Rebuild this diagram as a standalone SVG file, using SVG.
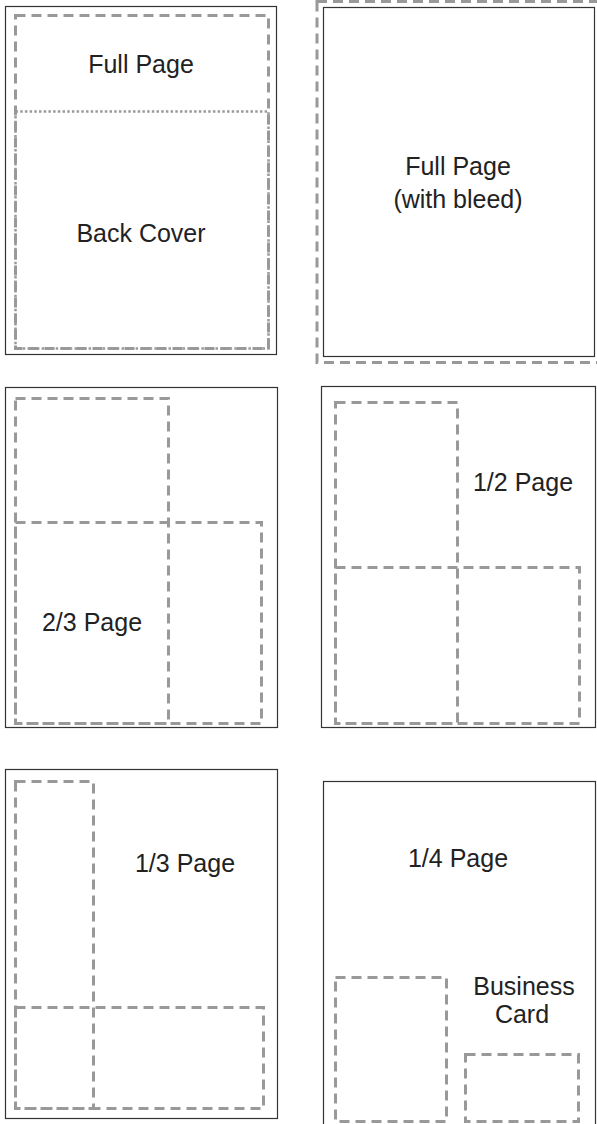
<svg xmlns="http://www.w3.org/2000/svg" width="597" height="1124" viewBox="0 0 597 1124">
<style>
.page{fill:#fff;stroke:#333;stroke-width:1.2}
.ad{fill:none;stroke:#999;stroke-width:3;stroke-dasharray:10 6}
.dot{fill:none;stroke:#999;stroke-width:2.5;stroke-dasharray:2.5 2.2}
text{font-family:"Liberation Sans",Arial,sans-serif;font-size:25px;fill:#222;text-anchor:middle}
</style>
<rect width="597" height="1124" fill="#fff"/>
<g id="full-page-back-cover">
<rect class="page" x="5.5" y="6.5" width="271" height="348"/>
<rect class="ad" x="15.5" y="15.5" width="253" height="333"/>
<rect class="dot" x="15.5" y="111.5" width="253" height="237"/>
<text x="141" y="73">Full Page</text>
<text x="141" y="242">Back Cover</text>
</g>
<g id="full-page-bleed">
<rect class="ad" x="317" y="1.5" width="292" height="361"/>
<rect class="page" x="323.5" y="7.5" width="271" height="349"/>
<text x="458" y="175">Full Page</text>
<text x="458" y="208">(with bleed)</text>
</g>
<g id="two-thirds-page">
<rect class="page" x="5.5" y="387.5" width="272" height="340"/>
<rect class="ad" x="15.5" y="398.5" width="153" height="325"/>
<rect class="ad" x="15.5" y="522.5" width="246" height="201"/>
<text x="92" y="631">2/3 Page</text>
</g>
<g id="half-page">
<rect class="page" x="321.5" y="386.5" width="274" height="341"/>
<rect class="ad" x="335.5" y="402.5" width="122" height="321"/>
<rect class="ad" x="335.5" y="567.5" width="244" height="156"/>
<text x="523" y="491">1/2 Page</text>
</g>
<g id="third-page">
<rect class="page" x="5.5" y="769.5" width="272" height="349"/>
<rect class="ad" x="15.5" y="781.5" width="78" height="327"/>
<rect class="ad" x="15.5" y="1007.5" width="248" height="101"/>
<text x="185" y="872">1/3 Page</text>
</g>
<g id="quarter-page">
<rect class="page" x="323.5" y="781.5" width="272" height="360"/>
<rect class="ad" x="335.5" y="977.5" width="111" height="144"/>
<rect class="ad" x="465.5" y="1054.5" width="113" height="67"/>
<text x="458" y="867">1/4 Page</text>
<text x="524" y="995">Business</text>
<text x="522" y="1023">Card</text>
</g>
<g id="connectors"/>
</svg>
